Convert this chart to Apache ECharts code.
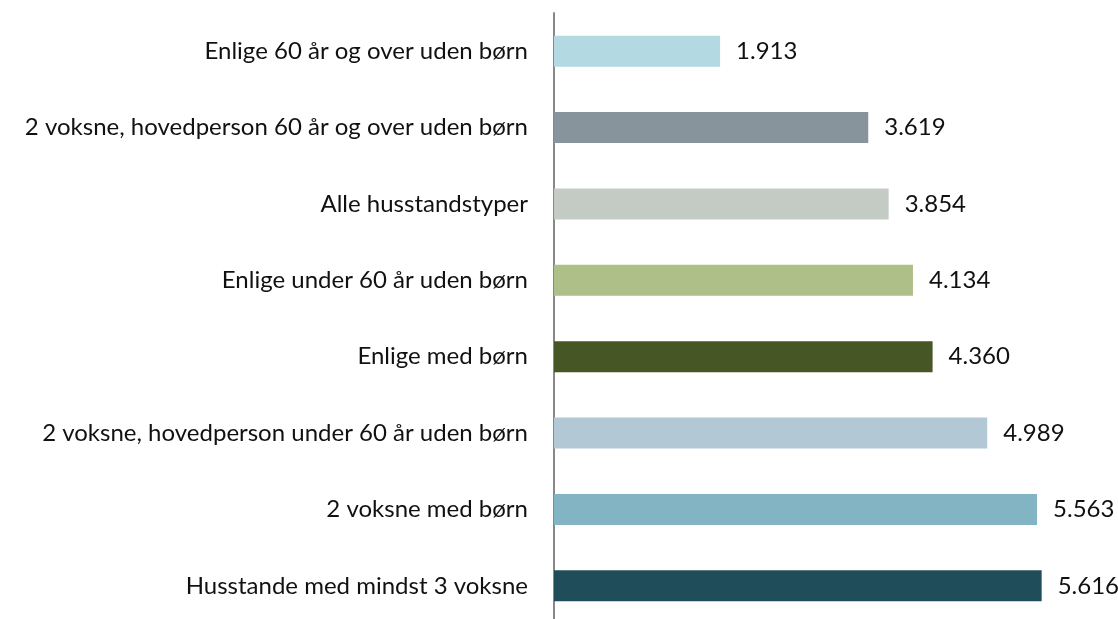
<!DOCTYPE html>
<html>
<head>
<meta charset="utf-8">
<script src="https://cdn.jsdelivr.net/npm/echarts@6/dist/echarts.min.js"></script>
<style>
  html, body { margin: 0; padding: 0; background: #fff; }
  #chart { width: 1118px; height: 619px; }
</style>
</head>
<body>
<div id="chart"></div>
<script>
var categories = [
  'Enlige 60 år og over uden børn',
  '2 voksne, hovedperson 60 år og over uden børn',
  'Alle husstandstyper',
  'Enlige under 60 år uden børn',
  'Enlige med børn',
  '2 voksne, hovedperson under 60 år uden børn',
  '2 voksne med børn',
  'Husstande med mindst 3 voksne'
];
var values = [1.913, 3.619, 3.854, 4.134, 4.360, 4.989, 5.563, 5.616];
var barColors = ['#b3d9e3', '#87949b', '#c4cbc4', '#aebf87', '#465624', '#b3c8d5', '#82b4c3', '#1f4e5a'];

var chart = echarts.init(document.getElementById('chart'));
var option = {
  animation: false,
  grid: { left: 554, right: 43, top: 13, height: 611, containLabel: false, outerBoundsMode: 'none' },
  xAxis: {
    type: 'value',
    min: 0,
    max: 6,
    show: false
  },
  yAxis: {
    type: 'category',
    inverse: true,
    data: categories,
    axisLine: { show: true, lineStyle: { color: '#888888', width: 2 } },
    axisTick: { show: false },
    axisLabel: {
      color: '#111111',
      fontSize: 24,
      fontFamily: 'Lato',
      margin: 26
    }
  },
  series: [{
    type: 'bar',
    barWidth: 31,
    data: values.map(function (v, i) {
      return { value: v, itemStyle: { color: barColors[i] } };
    }),
    label: {
      show: true,
      position: 'right',
      distance: 16,
      color: '#111111',
      fontSize: 24,
      fontFamily: 'Lato',
      formatter: function (p) { return p.value.toFixed(3); }
    }
  }]
};
chart.setOption(option);
</script>
</body>
</html>
